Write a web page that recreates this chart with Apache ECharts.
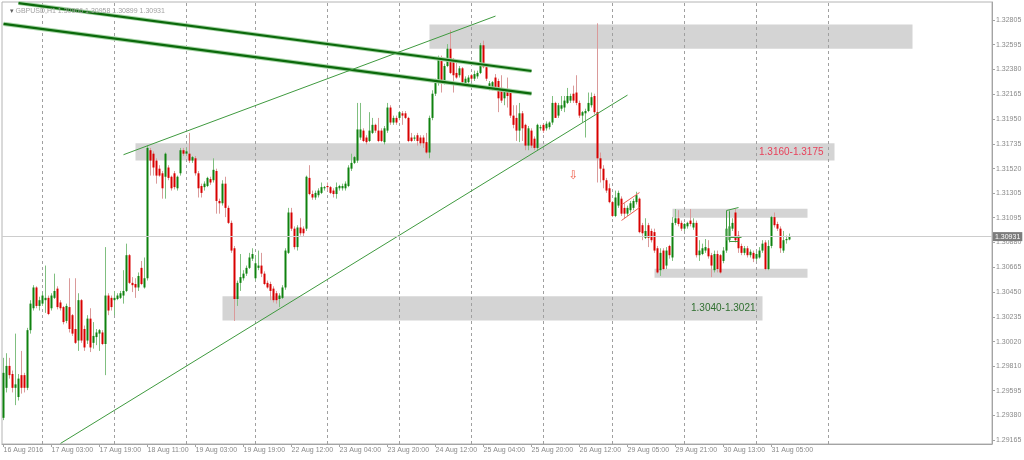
<!DOCTYPE html>
<html><head><meta charset="utf-8">
<script src="https://cdn.jsdelivr.net/npm/echarts@6.0.0/dist/echarts.min.js"></script>
<style>html,body{margin:0;padding:0;background:#fff}#c{width:1024px;height:460px}</style>
</head><body><div id="c"></div>
<script>
// ---- trading sessions (day, first hour, last hour) of the H1 chart ----
const sessions = [
  ['16 Aug',11,23],['17 Aug',0,23],['18 Aug',0,23],['19 Aug',0,22],
  ['22 Aug',0,23],['23 Aug',0,23],['24 Aug',0,23],['25 Aug',0,23],['26 Aug',0,22],
  ['29 Aug',0,23],['30 Aug',0,23],['31 Aug',0,23],['01 Sep',0,23],['02 Sep',0,22],['05 Sep',0,23]
];
const slotCount = 330;               // category slots incl. empty area right of last bar
const firstLabel = '16 Aug 2016';
const gridDays = ['17 Aug','18 Aug','19 Aug','22 Aug','23 Aug','24 Aug','25 Aug','26 Aug','29 Aug','30 Aug','31 Aug','01 Sep'];
const title = 'GBPUSD,H1 1.30906 1.30958 1.30899 1.30931';
const lastPrice = 1.30931;
const yTicks = [1.32805,1.32595,1.32380,1.32165,1.31950,1.31735,1.31520,1.31305,1.31095,1.30880,1.30665,1.30450,1.30235,1.30020,1.29810,1.29595,1.29380,1.29165];
const yMin = 1.29133, yMax = 1.32965;

const open = [
1.2936,1.2962,1.2981,1.2974,1.2962,1.2954,1.2973,1.2973,1.2962,1.3012,
1.3031,1.3049,1.3033,1.3035,1.3038,1.3040,1.3031,1.3040,1.3048,1.3036,
1.3032,1.3020,1.3032,1.3025,1.3013,1.3003,1.3038,1.3013,1.3003,1.3022,
1.3001,1.3006,1.3009,1.3010,1.3000,1.3042,1.3040,1.3038,1.3039,1.3040,
1.3042,1.3046,1.3077,1.3053,1.3052,1.3049,1.3066,1.3049,1.3057,1.3168,
1.3165,1.3159,1.3152,1.3148,1.3145,1.3153,1.3145,1.3148,1.3135,1.3148,
1.3168,1.3165,1.3165,1.3159,1.3161,1.3148,1.3137,1.3136,1.3137,1.3143,
1.3142,1.3150,1.3124,1.3122,1.3139,1.3118,1.3105,1.3083,1.3039,1.3053,
1.3057,1.3061,1.3066,1.3074,1.3057,1.3066,1.3068,1.3061,1.3053,1.3052,
1.3048,1.3044,1.3039,1.3040,1.3049,1.3079,1.3114,1.3100,1.3084,1.3101,
1.3100,1.3100,1.3144,1.3130,1.3127,1.3129,1.3131,1.3135,1.3137,1.3136,
1.3133,1.3130,1.3135,1.3135,1.3135,1.3137,1.3152,1.3157,1.3159,1.3179,
1.3185,1.3179,1.3176,1.3183,1.3190,1.3185,1.3185,1.3175,1.3185,1.3205,
1.3192,1.3196,1.3196,1.3200,1.3200,1.3196,1.3179,1.3178,1.3181,1.3179,
1.3179,1.3175,1.3166,1.3196,1.3217,1.3227,1.3248,1.3227,1.3241,1.3256,
1.3246,1.3235,1.3233,1.3239,1.3226,1.3227,1.3233,1.3230,1.3232,1.3235,
1.3259,1.3240,1.3221,1.3222,1.3231,1.3228,1.3222,1.3213,1.3220,1.3220,
1.3198,1.3196,1.3185,1.3200,1.3190,1.3172,1.3185,1.3178,1.3170,1.3187,
1.3190,1.3187,1.3188,1.3192,1.3209,1.3198,1.3204,1.3205,1.3209,1.3211,
1.3217,1.3218,1.3209,1.3198,1.3200,1.3202,1.3207,1.3215,1.3201,1.3161,
1.3152,1.3142,1.3135,1.3123,1.3111,1.3120,1.3126,1.3118,1.3113,1.3116,
1.3118,1.3123,1.3126,1.3103,1.3092,1.3103,1.3098,1.3097,1.3083,1.3064,
1.3081,1.3068,1.3085,1.3075,1.3105,1.3109,1.3105,1.3100,1.3102,1.3107,
1.3101,1.3105,1.3077,1.3078,1.3081,1.3083,1.3077,1.3064,1.3078,1.3077,
1.3072,1.3081,1.3090,1.3100,1.3114,1.3094,1.3085,1.3079,1.3083,1.3077,
1.3079,1.3074,1.3075,1.3081,1.3088,1.3065,1.3085,1.3110,1.3104,1.3100,
1.3081,1.3090,1.30906];
const close = [
1.2975,1.2981,1.2973,1.2962,1.2965,1.2970,1.2962,1.2962,1.3012,1.3035,
1.3049,1.3033,1.3038,1.3042,1.3040,1.3026,1.3042,1.3046,1.3032,1.3031,
1.3019,1.3033,1.3013,1.3009,1.3001,1.3038,1.3003,1.2997,1.3022,1.2997,
1.3007,1.3010,1.3012,1.3000,1.3042,1.3029,1.3032,1.3040,1.3042,1.3044,
1.3046,1.3077,1.3053,1.3051,1.3049,1.3059,1.3052,1.3057,1.3170,1.3159,
1.3153,1.3146,1.3146,1.3135,1.3165,1.3144,1.3135,1.3136,1.3145,1.3168,
1.3165,1.3167,1.3159,1.3162,1.3148,1.3135,1.3131,1.3139,1.3144,1.3140,
1.3151,1.3124,1.3122,1.3139,1.3118,1.3105,1.3081,1.3039,1.3053,1.3058,
1.3061,1.3066,1.3075,1.3078,1.3070,1.3068,1.3061,1.3052,1.3049,1.3046,
1.3038,1.3038,1.3042,1.3049,1.3081,1.3114,1.3100,1.3084,1.3101,1.3096,
1.3096,1.3145,1.3130,1.3127,1.3131,1.3133,1.3136,1.3136,1.3136,1.3131,
1.3130,1.3136,1.3137,1.3137,1.3139,1.3153,1.3157,1.3162,1.3186,1.3186,
1.3176,1.3175,1.3185,1.3190,1.3185,1.3176,1.3176,1.3187,1.3205,1.3192,
1.3196,1.3192,1.3201,1.3198,1.3196,1.3176,1.3176,1.3179,1.3176,1.3174,
1.3174,1.3166,1.3196,1.3217,1.3228,1.3248,1.3227,1.3241,1.3256,1.3235,
1.3233,1.3231,1.3239,1.3227,1.3230,1.3231,1.3230,1.3234,1.3235,1.3259,
1.3240,1.3230,1.3226,1.3227,1.3222,1.3213,1.3211,1.3220,1.3215,1.3198,
1.3190,1.3185,1.3200,1.3187,1.3172,1.3187,1.3172,1.3170,1.3190,1.3188,
1.3185,1.3191,1.3192,1.3209,1.3196,1.3207,1.3207,1.3211,1.3215,1.3215,
1.3211,1.3209,1.3198,1.3201,1.3202,1.3209,1.3214,1.3201,1.3161,1.3152,
1.3142,1.3133,1.3123,1.3111,1.3127,1.3131,1.3113,1.3113,1.3118,1.3122,
1.3124,1.3129,1.3097,1.3096,1.3098,1.3092,1.3090,1.3081,1.3062,1.3079,
1.3065,1.3081,1.3077,1.3105,1.3109,1.3104,1.3100,1.3104,1.3105,1.3104,
1.3105,1.3077,1.3081,1.3083,1.3084,1.3076,1.3068,1.3078,1.3065,1.3062,
1.3081,1.3100,1.3102,1.3105,1.3090,1.3083,1.3079,1.3083,1.3077,1.3080,
1.3074,1.3078,1.3081,1.3087,1.3065,1.3085,1.3110,1.3103,1.3100,1.3083,
1.3090,1.3091,1.30931];
const low = [
1.2934,1.2958,1.2970,1.2958,1.2947,1.2951,1.2957,1.2958,1.2960,1.3009,
1.3029,1.3031,1.3029,1.3033,1.3027,1.3025,1.3029,1.3039,1.3030,1.3029,
1.3017,1.3018,1.3010,1.3007,1.3000,1.2994,1.3001,1.2994,1.3000,1.2993,
1.2996,1.2999,1.2994,1.2999,1.2973,1.3025,1.3029,1.3025,1.3038,1.3039,
1.3035,1.3045,1.3052,1.3045,1.3040,1.3046,1.3051,1.3048,1.3055,1.3146,
1.3146,1.3139,1.3145,1.3126,1.3126,1.3142,1.3133,1.3134,1.3133,1.3146,
1.3163,1.3163,1.3157,1.3157,1.3146,1.3127,1.3127,1.3133,1.3136,1.3138,
1.3140,1.3113,1.3113,1.3120,1.3110,1.3104,1.3079,1.3020,1.3033,1.3046,
1.3055,1.3059,1.3065,1.3072,1.3055,1.3064,1.3058,1.3051,1.3048,1.3038,
1.3036,1.3035,1.3032,1.3039,1.3047,1.3078,1.3098,1.3082,1.3081,1.3094,
1.3093,1.3098,1.3129,1.3125,1.3125,1.3127,1.3130,1.3133,1.3133,1.3130,
1.3127,1.3126,1.3133,1.3133,1.3133,1.3136,1.3150,1.3156,1.3157,1.3177,
1.3175,1.3173,1.3175,1.3182,1.3183,1.3175,1.3175,1.3173,1.3183,1.3190,
1.3190,1.3190,1.3194,1.3190,1.3195,1.3175,1.3175,1.3176,1.3172,1.3172,
1.3170,1.3165,1.3161,1.3194,1.3215,1.3224,1.3218,1.3225,1.3240,1.3234,
1.3218,1.3230,1.3231,1.3224,1.3224,1.3225,1.3228,1.3228,1.3230,1.3234,
1.3239,1.3228,1.3220,1.3220,1.3220,1.3201,1.3209,1.3207,1.3205,1.3196,
1.3187,1.3176,1.3175,1.3176,1.3168,1.3168,1.3170,1.3168,1.3168,1.3185,
1.3183,1.3185,1.3186,1.3190,1.3196,1.3196,1.3202,1.3201,1.3208,1.3209,
1.3209,1.3207,1.3196,1.3192,1.3179,1.3201,1.3205,1.3199,1.3140,1.3140,
1.3135,1.3131,1.3122,1.3110,1.3110,1.3118,1.3111,1.3109,1.3111,1.3114,
1.3116,1.3121,1.3096,1.3090,1.3091,1.3084,1.3088,1.3079,1.3061,1.3059,
1.3064,1.3065,1.3074,1.3072,1.3103,1.3102,1.3098,1.3098,1.3100,1.3102,
1.3099,1.3075,1.3072,1.3077,1.3079,1.3074,1.3058,1.3062,1.3062,1.3061,
1.3070,1.3079,1.3088,1.3098,1.3088,1.3079,1.3077,1.3077,1.3075,1.3075,
1.3071,1.3072,1.3074,1.3079,1.3064,1.3064,1.3083,1.3101,1.3098,1.3079,
1.3079,1.3087,1.30899];
const high = [
1.2988,1.2992,1.2988,1.2977,1.3009,1.2974,1.2994,1.2975,1.3014,1.3038,
1.3051,1.3050,1.3041,1.3045,1.3068,1.3042,1.3044,1.3061,1.3050,1.3038,
1.3033,1.3035,1.3057,1.3026,1.3057,1.3044,1.3039,1.3016,1.3025,1.3031,
1.3019,1.3013,1.3013,1.3012,1.3084,1.3044,1.3042,1.3046,1.3044,1.3046,
1.3064,1.3087,1.3078,1.3058,1.3057,1.3062,1.3072,1.3075,1.3172,1.3170,
1.3167,1.3161,1.3155,1.3150,1.3166,1.3155,1.3146,1.3150,1.3146,1.3170,
1.3170,1.3170,1.3183,1.3163,1.3163,1.3150,1.3139,1.3141,1.3145,1.3145,
1.3161,1.3152,1.3126,1.3142,1.3145,1.3120,1.3107,1.3085,1.3055,1.3078,
1.3064,1.3068,1.3079,1.3083,1.3077,1.3081,1.3079,1.3063,1.3055,1.3054,
1.3050,1.3046,1.3044,1.3051,1.3083,1.3118,1.3118,1.3102,1.3103,1.3109,
1.3102,1.3146,1.3155,1.3133,1.3133,1.3135,1.3140,1.3137,1.3140,1.3137,
1.3135,1.3140,1.3138,1.3139,1.3141,1.3155,1.3165,1.3163,1.3209,1.3209,
1.3187,1.3181,1.3201,1.3196,1.3191,1.3196,1.3187,1.3189,1.3209,1.3207,
1.3198,1.3198,1.3202,1.3202,1.3202,1.3197,1.3183,1.3181,1.3183,1.3181,
1.3181,1.3183,1.3198,1.3220,1.3230,1.3250,1.3250,1.3243,1.3260,1.3272,
1.3248,1.3244,1.3241,1.3240,1.3232,1.3233,1.3234,1.3237,1.3237,1.3261,
1.3263,1.3241,1.3228,1.3228,1.3234,1.3230,1.3233,1.3221,1.3231,1.3221,
1.3207,1.3207,1.3209,1.3202,1.3191,1.3189,1.3187,1.3180,1.3191,1.3190,
1.3191,1.3193,1.3193,1.3215,1.3210,1.3209,1.3215,1.3215,1.3222,1.3217,
1.3224,1.3233,1.3211,1.3202,1.3204,1.3218,1.3218,1.3217,1.3278,1.3166,
1.3155,1.3144,1.3139,1.3124,1.3133,1.3133,1.3128,1.3122,1.3120,1.3124,
1.3126,1.3132,1.3127,1.3105,1.3109,1.3105,1.3100,1.3100,1.3085,1.3083,
1.3083,1.3084,1.3086,1.3110,1.3117,1.3116,1.3107,1.3105,1.3106,1.3117,
1.3109,1.3107,1.3090,1.3087,1.3091,1.3090,1.3079,1.3081,1.3081,1.3078,
1.3084,1.3103,1.3116,1.3109,1.3117,1.3098,1.3087,1.3085,1.3085,1.3082,
1.3081,1.3080,1.3084,1.3090,1.3090,1.3090,1.3111,1.3114,1.3106,1.3102,
1.3098,1.3094,1.30958];

// ---- drawn objects: [bar index, price] anchors ----
const zones = [
  {from:142, to:303, top:1.32770, bottom:1.32559},
  {from:44,  to:277, top:1.31741, bottom:1.31591, text:'1.3160-1.3175', color:'#e8415a', gap:11},
  {from:73,  to:253, top:1.30415, bottom:1.30204, text:'1.3040-1.3021', color:'#2f6f2f', gap:7},
  {from:223, to:268, top:1.31172, bottom:1.31094},
  {from:217, to:268, top:1.30652, bottom:1.30575}
];
const channel = [[[5,1.32956],[176,1.32367]], [[0,1.32775],[176,1.32171]]];
const trendThin = [[[40,1.31641],[164,1.32843]], [[19,1.29138],[208,1.32158]]];
const flagRed = [[[206,1.31207],[212,1.31313]], [[206,1.31071],[212,1.31183]]];
const fibGreen = [
  [[241,1.31157],[241,1.30897]], [[241,1.31157],[245,1.31183]],
  [[242,1.31149],[242,1.30888]], [[242,1.30923],[246,1.30923]], [[242,1.30888],[245,1.30888]]
];
const arrowAt = [190, 1.31461];

// ---- build categories ----
const cats = [];
sessions.forEach(([d,h0,h1]) => { for (let h=h0; h<=h1; h++) cats.push(d+' '+String(h).padStart(2,'0')+':00'); });
cats.length = slotCount;
const labelSet = new Set();
for (let i=0; i<open.length; i+=16) labelSet.add(i);

const wickData = open.map((o,i) => [o, close[i], low[i], high[i]]);
const bodyData = open.map((o,i) => [o, close[i], Math.min(o,close[i]), Math.max(o,close[i])]);

function seg(pair, style) {
  return [{coord:[cats[pair[0][0]], pair[0][1]], lineStyle:style}, {coord:[cats[pair[1][0]], pair[1][1]]}];
}
const annLines = [];
channel.forEach(p => annLines.push(seg(p, {color:'#a6d4a6', width:4.2, type:'solid'})));
channel.forEach(p => annLines.push(seg(p, {color:'#0b690b', width:2.2, type:'solid'})));
trendThin.forEach(p => annLines.push(seg(p, {color:'#3f9a3f', width:1, type:'solid'})));
flagRed.forEach(p => annLines.push(seg(p, {color:'#ec5a50', width:1, type:'solid'})));
fibGreen.forEach(p => annLines.push(seg(p, {color:'#3f9a3f', width:1, type:'solid'})));
annLines.push({yAxis:lastPrice, lineStyle:{color:'#cdcdcd', width:1, type:'solid'},
  label:{show:true, position:'end', distance:1, formatter:lastPrice.toFixed(5), color:'#ffffff',
    backgroundColor:'#7c7c7c', padding:[1,2,1,2], fontSize:7, fontFamily:'Liberation Sans'}});

const areaData = zones.map(z => {
  const a = {coord:[cats[z.from], z.top]};
  if (z.text) a.label = {show:true, position:'insideRight', distance:z.gap, formatter:z.text,
    color:z.color, fontSize:10, fontFamily:'Liberation Sans'};
  return [a, {coord:[cats[z.to], z.bottom]}];
});

const font = 'Liberation Sans, DejaVu Sans, sans-serif';
const chart = echarts.init(document.getElementById('c'), null, {renderer:'canvas'});
chart.setOption({
  animation:false,
  backgroundColor:'#ffffff',
  textStyle:{fontFamily:font},
  title:{text:'{t|▾} '+title, left:5, top:3,
    textStyle:{fontSize:7, color:'#a2a2a2', fontWeight:'normal', fontFamily:font,
      rich:{t:{fontSize:7, color:'#606060', fontFamily:'DejaVu Sans'}}}},
  grid:{left:2, right:32, top:2, bottom:16, show:true, borderColor:'#b4b4b4', borderWidth:1,
    containLabel:false, outerBoundsMode:'none'},
  xAxis:{type:'category', data:cats, boundaryGap:true,
    axisLine:{show:true, lineStyle:{color:'#a4a4a4'}},
    axisTick:{show:true, alignWithLabel:true, length:3, interval:(i)=>labelSet.has(i), lineStyle:{color:'#a4a4a4'}},
    axisLabel:{show:true, interval:(i)=>labelSet.has(i), align:'left', margin:3, fontSize:7, color:'#8a8a8a',
      fontFamily:font, formatter:(v,i)=> i===0 ? firstLabel : v},
    splitLine:{show:false}},
  yAxis:{type:'value', position:'right', min:yMin, max:yMax,
    axisLine:{show:true, lineStyle:{color:'#a4a4a4'}},
    axisTick:{show:true, length:3, customValues:yTicks, lineStyle:{color:'#a4a4a4'}},
    axisLabel:{show:true, customValues:yTicks, margin:4, fontSize:7, color:'#8a8a8a', fontFamily:font,
      formatter:(v)=>v.toFixed(5)},
    splitLine:{show:false}},
  series:[
    {type:'line', data:[], silent:true,
      markArea:{silent:true, z:1, itemStyle:{color:'#d4d4d4'}, label:{show:false}, data:areaData},
      markLine:{silent:true, z:1.5, precision:6, symbol:['none','none'], label:{show:false},
        lineStyle:{color:'#a0a0a0', type:[3,3], width:1},
        data:gridDays.map(d => ({xAxis:d+' 00:00'}))}},
    {type:'candlestick', data:wickData, barWidth:1, silent:true, z:2,
      itemStyle:{color:'transparent', color0:'transparent', borderColor:'#80bf80', borderColor0:'#da9a9a',
        borderColorDoji:'#80bf80', borderWidth:1}},
    {type:'candlestick', data:bodyData, barWidth:2, silent:true, z:3,
      itemStyle:{color:'#0f820f', color0:'#d80000', borderColor:'#0f820f', borderColor0:'#d80000',
        borderColorDoji:'#0f820f', borderWidth:0}},
    {type:'line', data:[], silent:true,
      markLine:{silent:true, z:5, precision:6, symbol:['none','none'], label:{show:false}, data:annLines},
      markPoint:{silent:true, symbol:'circle', symbolSize:1, itemStyle:{color:'transparent'},
        label:{show:true, position:'inside', formatter:'⇩', color:'#f0604c', fontSize:12, fontFamily:'DejaVu Sans'},
        data:[{coord:[cats[arrowAt[0]], arrowAt[1]]}]}}
  ]
});
</script></body></html>
